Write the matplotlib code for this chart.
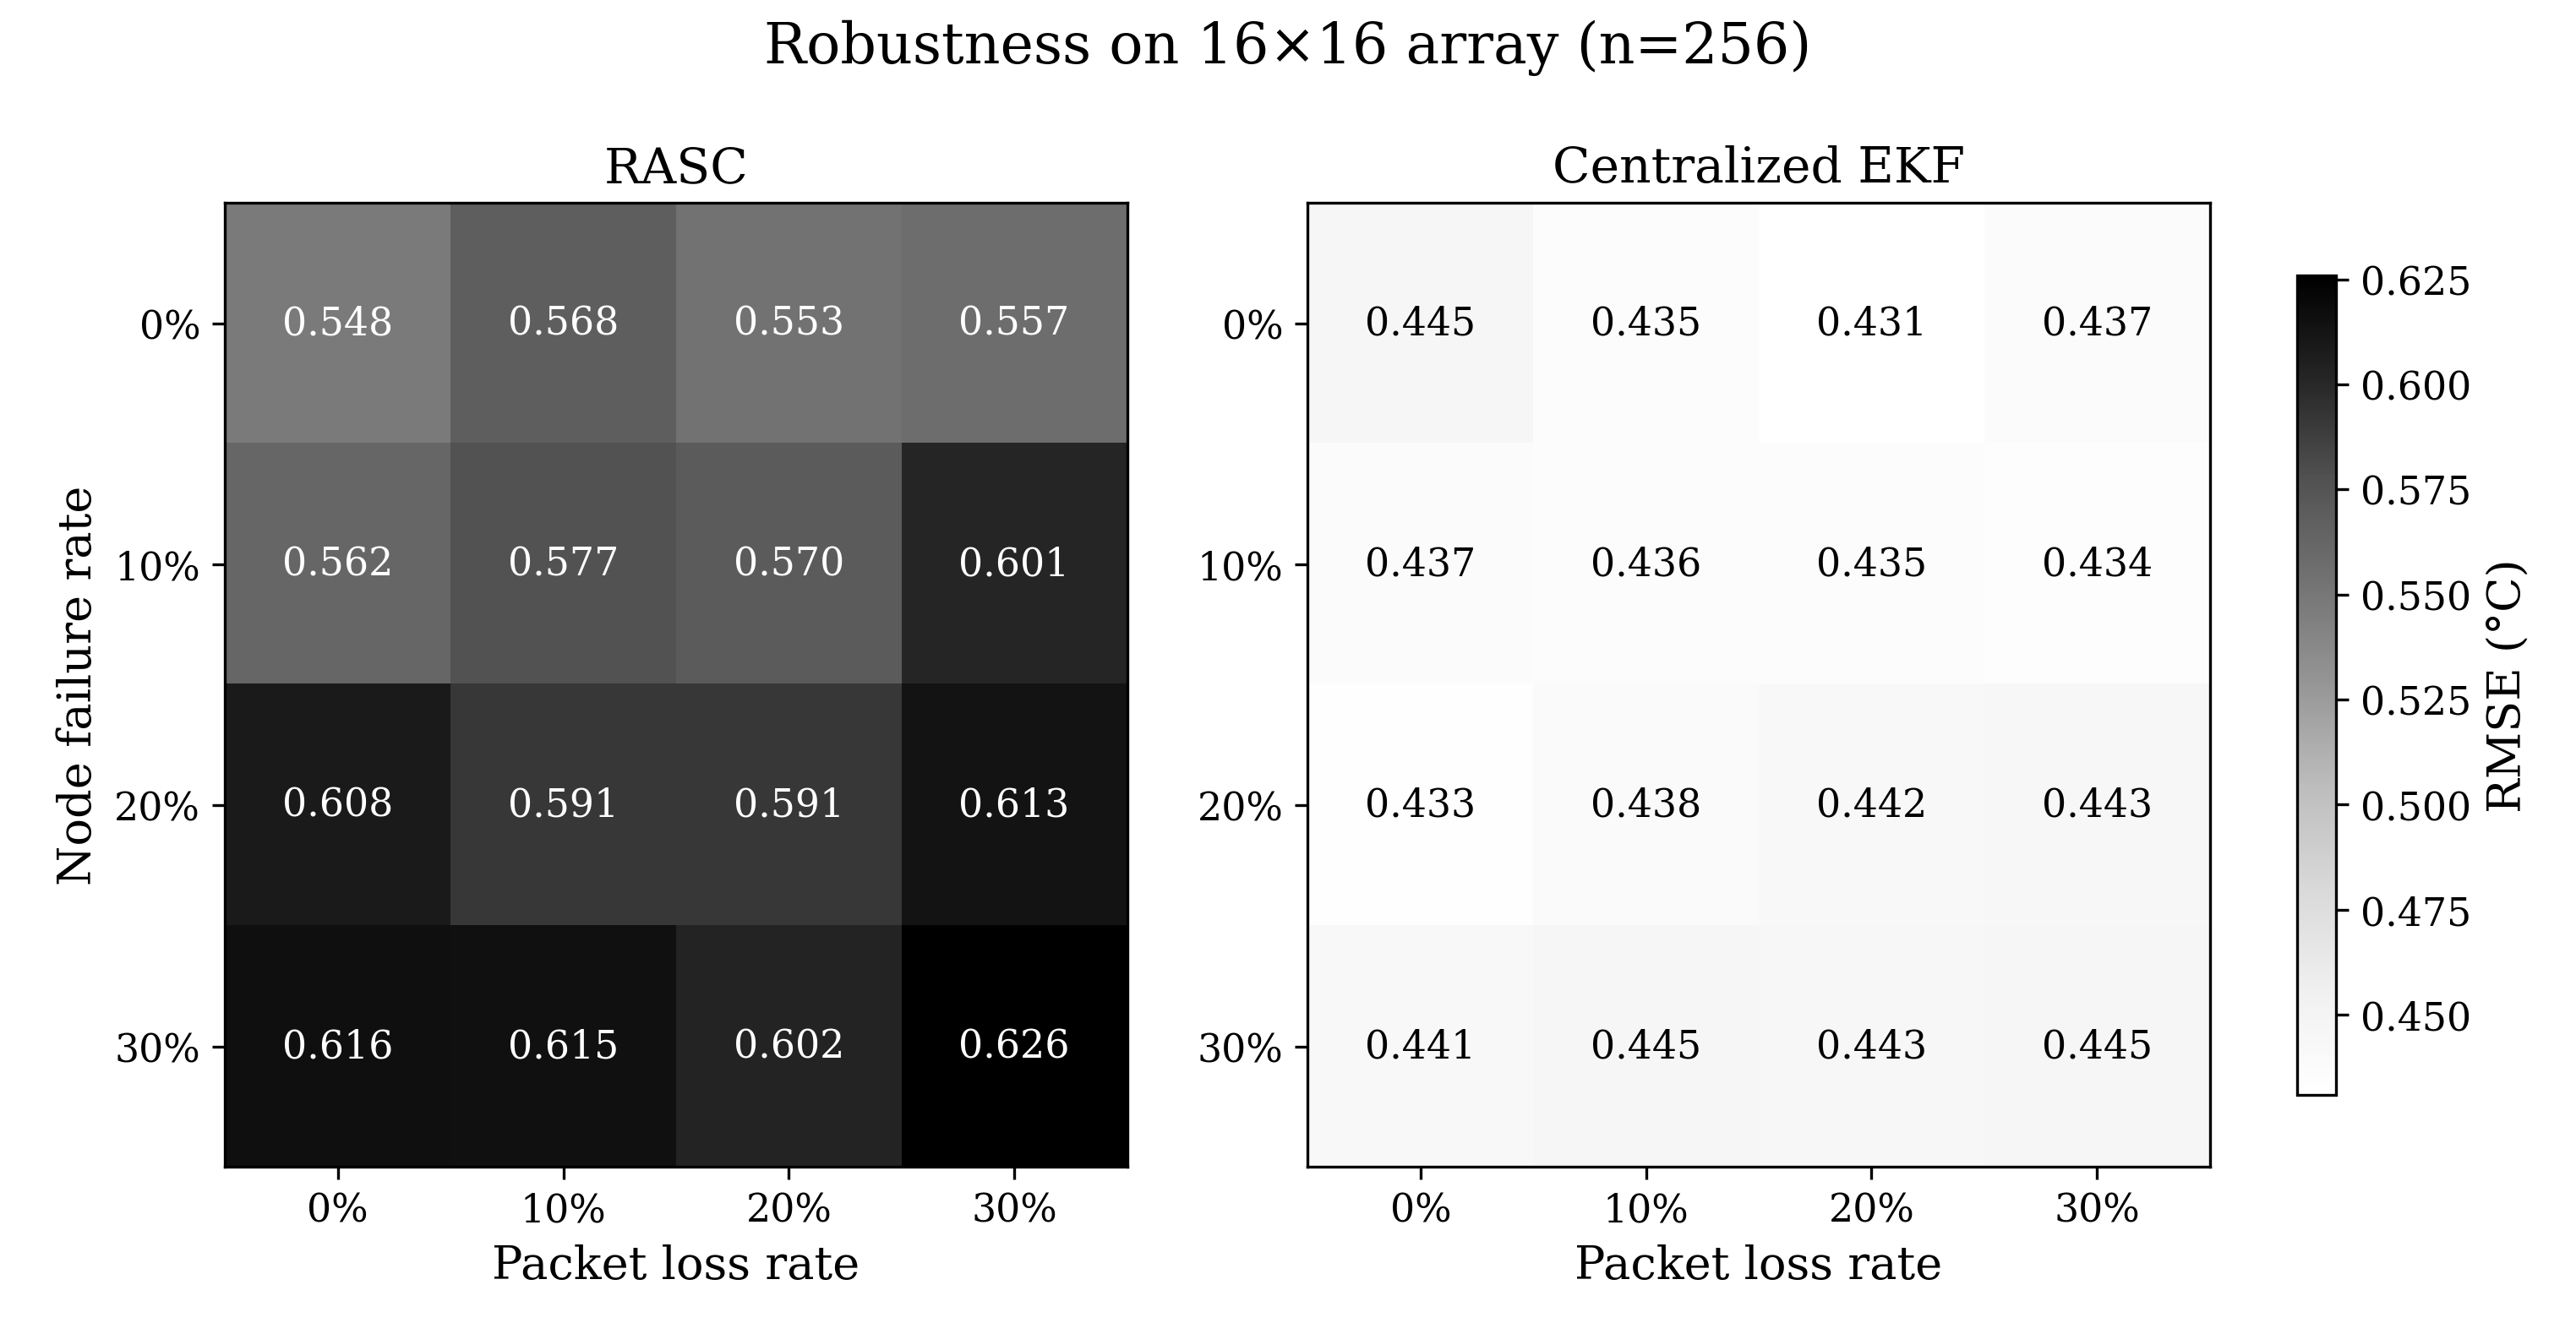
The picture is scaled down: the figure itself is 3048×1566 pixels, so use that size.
import matplotlib
matplotlib.use("Agg")
import matplotlib.pyplot as plt
import numpy as np

plt.rcParams['font.family'] = ['DejaVu Serif']

packet_loss = ["0%", "10%", "20%", "30%"]
node_failure = ["0%", "10%", "20%", "30%"]
rasc = [[0.548, 0.568, 0.553, 0.557],
        [0.562, 0.577, 0.570, 0.601],
        [0.608, 0.591, 0.591, 0.613],
        [0.616, 0.615, 0.602, 0.626]]
ekf = [[0.445, 0.435, 0.431, 0.437],
       [0.437, 0.436, 0.435, 0.434],
       [0.433, 0.438, 0.442, 0.443],
       [0.441, 0.445, 0.443, 0.445]]

vmin = min(np.min(rasc), np.min(ekf))
vmax = max(np.max(rasc), np.max(ekf))

fig = plt.figure(figsize=(10.16, 5.2233), dpi=300)
ax1 = fig.add_axes([0.0874, 0.1179, 0.3501, 0.7283])
ax2 = fig.add_axes([0.5077, 0.1179, 0.3501, 0.7283])
cax = fig.add_axes([0.8916, 0.1725, 0.0153, 0.6191])

for ax, data, title in [(ax1, rasc, "RASC"), (ax2, ekf, "Centralized EKF")]:
    arr = np.array(data)
    im = ax.imshow(arr, cmap="Greys", vmin=vmin, vmax=vmax, aspect="auto")
    ax.set_xticks(range(len(packet_loss)), packet_loss, fontsize=11)
    ax.set_yticks(range(len(node_failure)), node_failure, fontsize=11)
    ax.set_xlabel("Packet loss rate", fontsize=13)
    ax.set_title(title, fontsize=14)
    mid = (vmin + vmax) / 2
    for i in range(arr.shape[0]):
        for j in range(arr.shape[1]):
            ax.text(j, i, f"{arr[i, j]:.3f}", ha="center", va="center", fontsize=11,
                    color="white" if arr[i, j] > mid else "black")
ax1.set_ylabel("Node failure rate", fontsize=13)

cb = fig.colorbar(im, cax=cax)
cb.set_ticks([0.450, 0.475, 0.500, 0.525, 0.550, 0.575, 0.600, 0.625])
cb.ax.tick_params(labelsize=11)
cb.set_label("RMSE (°C)", fontsize=13)

fig.suptitle("Robustness on 16×16 array (n=256)", fontsize=16, y=0.985)
fig.savefig("out.png", dpi=300)
